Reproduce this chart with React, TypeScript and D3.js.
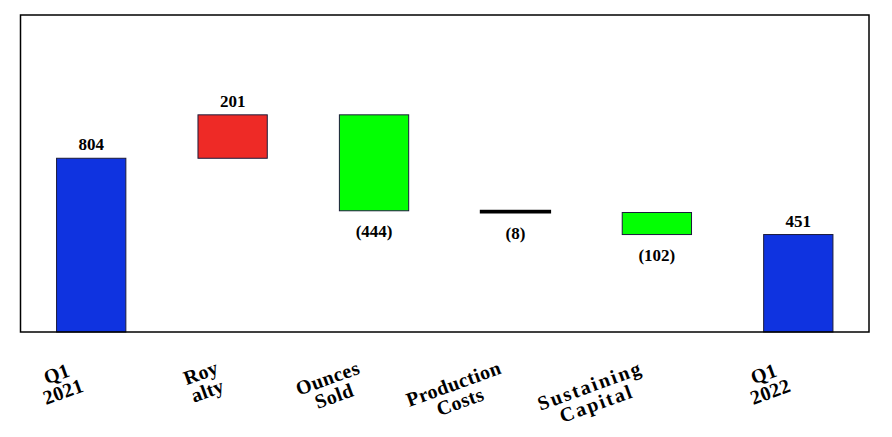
import React, { useEffect, useRef } from 'react'
import * as d3 from 'd3'

// waterfall data
const categories = ['Q1 2021', 'Royalty', 'Ounces Sold', 'Production Costs', 'Sustaining Capital', 'Q1 2022']
const categoryLines = [['Q1', '2021'], ['Roy', 'alty'], ['Ounces', 'Sold'], ['Production', 'Costs'], ['Sustaining', 'Capital'], ['Q1', '2022']]
const values = [804, 201, -444, -8, -102, 451]
const isTotal = [true, false, false, false, false, true]
const valueLabels = ['804', '201', '(444)', '(8)', '(102)', '451']
const barColors = ['#0f33e0', '#ee2a26', '#03ff03', '#000000', '#03ff03', '#0f33e0']
const labelSpacing = [0.3, 0.3, 0.5, 0.4, 2.0, 0.3]

const W = 892
const H = 437
const FONT = '"Liberation Serif", "Times New Roman", serif'

export default function App() {
  const svgRef = useRef<SVGSVGElement>(null)

  useEffect(() => {
    if (!svgRef.current) return
    const svg = d3.select(svgRef.current)
    svg.selectAll('*').remove()

    const margin = { top: 15, right: 23, bottom: 105, left: 20.5 }
    const chartW = W - margin.left - margin.right
    const chartH = H - margin.top - margin.bottom

    // running totals
    let running = 0
    const bars = values.map((v, i) => {
      let y0: number, y1: number
      if (isTotal[i]) {
        y0 = 0
        y1 = v
        running = v
      } else {
        y0 = running
        y1 = running + v
        running = y1
      }
      return { key: categories[i], v, lo: Math.min(y0, y1), hi: Math.max(y0, y1), i }
    })

    const x = d3.scaleBand<string>()
      .domain(categories)
      .range([0, chartW])
      .paddingInner(0.51)
      .paddingOuter(0.255)

    const y = d3.scaleLinear()
      .domain([0, 1467])
      .range([chartH, 0])

    const g = svg.append('g').attr('transform', `translate(${margin.left},${margin.top})`)

    g.selectAll('.bar')
      .data(bars)
      .enter().append('rect')
      .attr('class', 'bar')
      .attr('x', d => x(d.key)!)
      .attr('width', x.bandwidth())
      .attr('y', d => y(d.hi))
      .attr('height', d => Math.max(1, y(d.lo) - y(d.hi)))
      .attr('fill', d => barColors[d.i])
      .attr('stroke', d => (barColors[d.i] === '#000000' ? '#000' : '#1b1b3a'))
      .attr('stroke-width', d => (barColors[d.i] === '#000000' ? 2 : 1))

    // frame
    g.append('rect')
      .attr('x', 0)
      .attr('y', 0)
      .attr('width', chartW)
      .attr('height', chartH)
      .attr('fill', 'none')
      .attr('stroke', '#000')
      .attr('stroke-width', 1.5)

    // value labels
    g.selectAll('.val')
      .data(bars)
      .enter().append('text')
      .attr('class', 'val')
      .attr('x', d => x(d.key)! + x.bandwidth() / 2)
      .attr('y', d => (d.v >= 0 ? y(d.hi) - 8 : y(d.lo) + 26))
      .attr('text-anchor', 'middle')
      .style('font-family', FONT)
      .style('font-weight', 'bold')
      .style('font-size', '17px')
      .style('fill', '#000')
      .text(d => valueLabels[d.i])

    // rotated category labels
    categoryLines.forEach((lines, i) => {
      const cx = margin.left + x(categories[i])! + x.bandwidth() / 2
      const grp = svg.append('g')
        .attr('transform', `translate(${cx - 18},${359}) rotate(-20)`)
      const texts = lines.map((ln, j) =>
        grp.append('text')
          .attr('y', 15 + j * 19)
          .attr('text-anchor', 'middle')
          .style('font-family', FONT)
          .style('font-weight', 'bold')
          .style('font-size', '20px')
          .style('letter-spacing', `${labelSpacing[i]}px`)
          .style('fill', '#000')
          .text(ln)
      )
      const widths = texts.map(t => (t.node() as SVGTextElement).getComputedTextLength())
      const bw = Math.max(...widths)
      texts.forEach(t => t.attr('x', -bw / 2))
    })
  }, [])

  return (
    <svg
      ref={svgRef}
      width={W}
      height={H}
      style={{ position: 'absolute', left: 0, top: 0, background: '#fff' }}
    />
  )
}
